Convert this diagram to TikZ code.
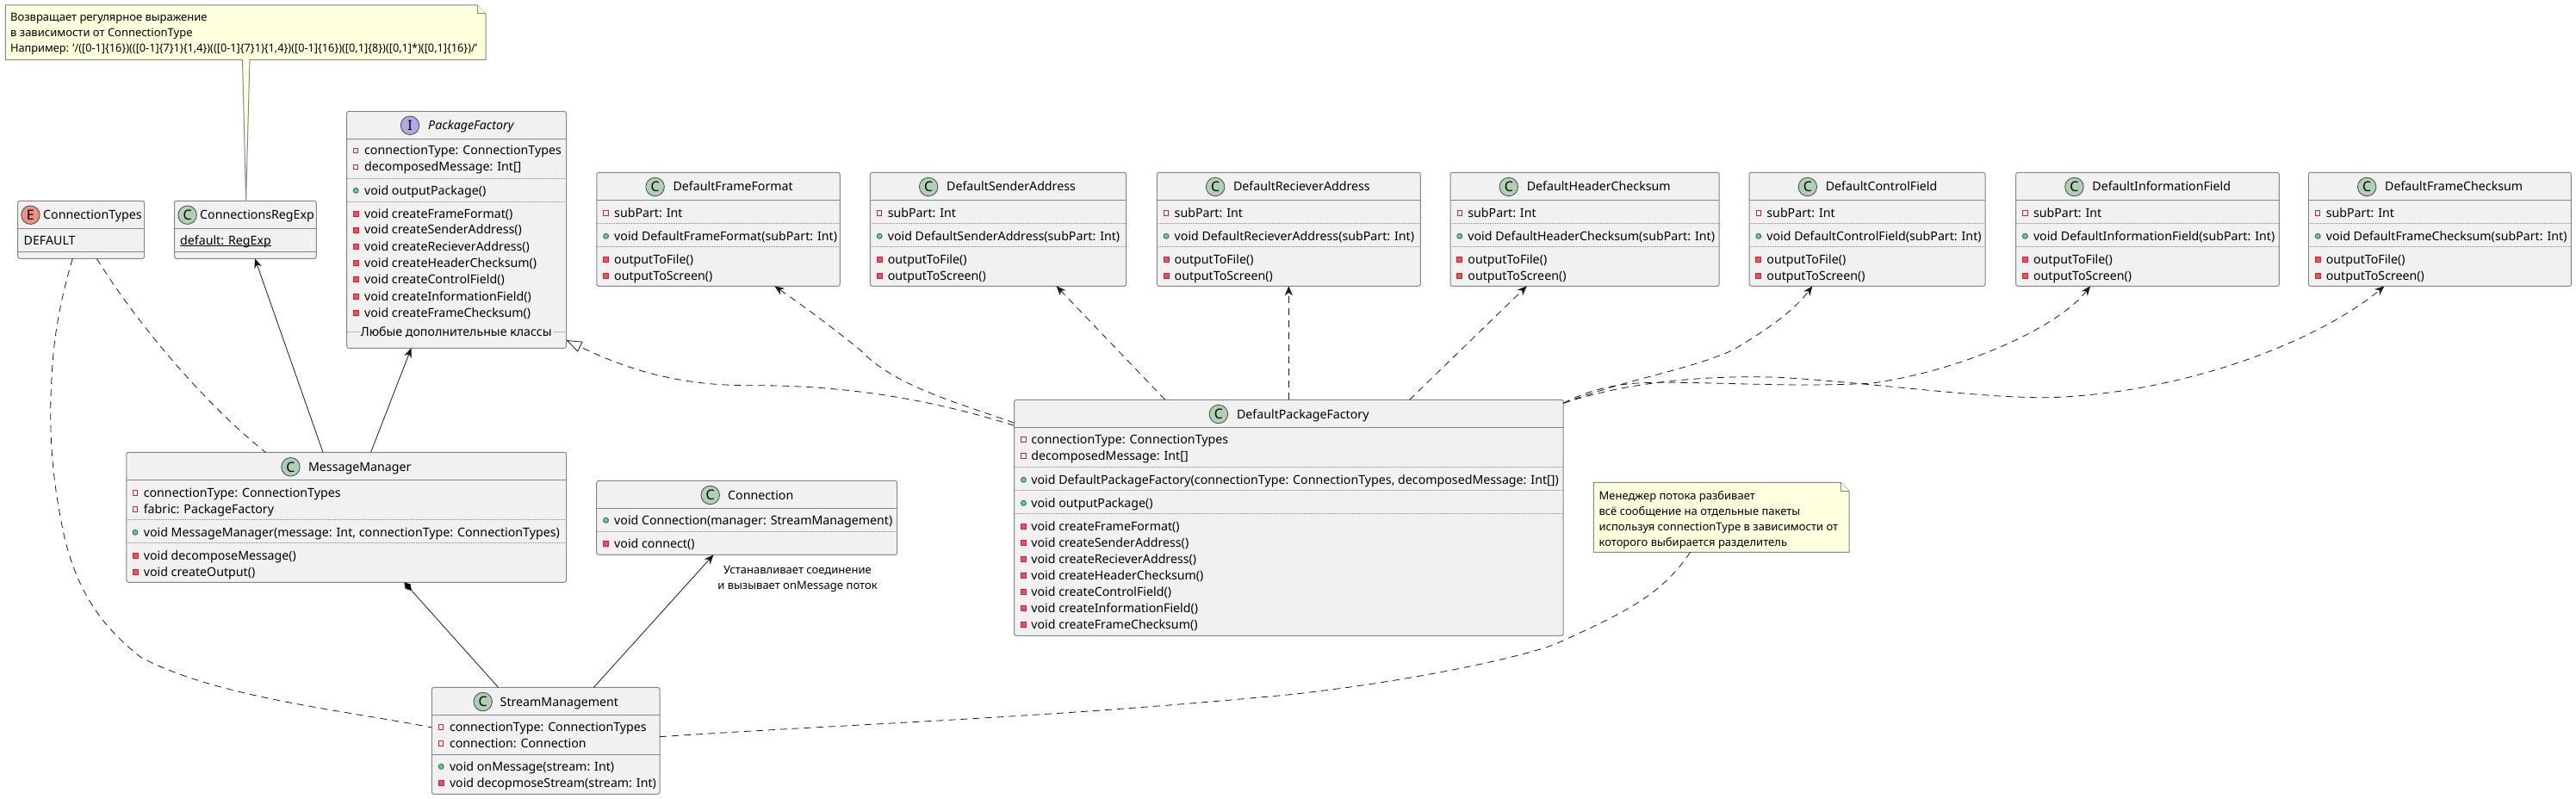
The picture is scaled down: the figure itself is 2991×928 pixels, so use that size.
\documentclass[tikz,border=0pt]{standalone}
\usepackage{fontspec}
\setmainfont{Noto Sans}
\usetikzlibrary{arrows.meta,calc}
\definecolor{boxfill}{HTML}{F1F1F1}
\definecolor{boxline}{HTML}{868686}
\definecolor{inkc}{HTML}{181818}
\definecolor{notefill}{HTML}{FEFFDD}
\definecolor{spotC}{HTML}{ADD1B2}
\definecolor{spotE}{HTML}{EB937F}
\definecolor{spotI}{HTML}{B4A7E5}
\definecolor{privred}{HTML}{C82930}
\definecolor{privfill}{HTML}{F24D5C}
\definecolor{pubgreen}{HTML}{038048}
\definecolor{pubfill}{HTML}{84BE84}
\newcount\nodeno
\newcommand\tnode[3]{\global\advance\nodeno by 1 \node[#1] (n\the\nodeno) at (#2) {#3};}
\tikzset{
  classbox/.style={draw=boxline,fill=boxfill,line width=1pt,rounded corners=2.5pt,anchor=north west,inner sep=0pt,outer sep=0pt},
  solidsep/.style={draw=boxline,line width=1pt},
  dotsep/.style={draw=boxline,line width=.8pt,dash pattern=on 1pt off 1pt},
  rowtext/.style={anchor=base west,inner sep=0pt,text=black,font=\fontsize{14.2}{16}\selectfont},
  notetext/.style={anchor=base west,inner sep=0pt,text=black,font=\fontsize{13}{15}\selectfont},
  spot/.style={circle,draw=inkc!80,line width=.8pt,fill=#1,minimum size=21.5pt,inner sep=0pt,font=\bfseries\fontsize{16}{16}\selectfont},
  fieldmark/.style={draw=privred,fill=none,line width=1pt,minimum size=5.5pt,inner sep=0pt},
  privmark/.style={draw=privred,fill=privfill,line width=.8pt,minimum size=6pt,inner sep=0pt},
  pubmark/.style={circle,draw=pubgreen,fill=pubfill,line width=.8pt,minimum size=6pt,inner sep=0pt},
  notebox/.style={draw=none,anchor=north west,inner sep=0pt,outer sep=0pt},
  noteline/.style={draw=boxline,fill=notefill,line width=1pt},
  rel/.style={draw=inkc,line width=.8pt},
  dep/.style={rel,dash pattern=on 8pt off 6pt},
  openhead/.style={-{Stealth[length=11pt,width=9pt,inset=3.5pt,fill=inkc]}},
  realhead/.style={-{Triangle[open,length=18pt,width=13pt,fill=white]}},
  comphead/.style={-{Diamond[length=13pt,width=8pt,fill=black]}}
}
% name, x0, y0, x1, y1, header line y
\newcommand\cbox[6]{\node[classbox,minimum width={(#4-#2)*1pt},minimum height={(#5-#3)*1pt}] (#1) at (#2,#3) {};
  \draw[solidsep] (#2,#6) -- (#4,#6);}
% colour, letter, spot x, y, title x, title
\newcommand\ctitle[6]{\tnode{spot=#1}{#3,#4}{#2}
  \tnode{rowtext}{#5,#4+5}{#6}}
\newcommand\dsep[3]{\draw[dotsep] (#1,#3) -- (#2,#3);}
\newcommand\fld[4]{\tnode{fieldmark}{#1,#3}{}\tnode{rowtext}{#2,#3+5}{#4}}
\newcommand\prv[4]{\tnode{privmark}{#1,#3}{}\tnode{rowtext}{#2,#3+5}{#4}}
\newcommand\pub[4]{\tnode{pubmark}{#1,#3}{}\tnode{rowtext}{#2,#3+5}{#4}}
% name, x0, x1, class name
\newcommand\subclass[4]{\cbox{#1}{#2}{200.3}{#3}{332.3}{232.3}
  \ctitle{spotC}{C}{#2+67.8}{217}{#2+88.6}{#4}
  \fld{#2+10.8}{#2+20.2}{247.3}{subPart: Int}
  \dsep{#2}{#3}{259.3}
  \pub{#2+10.8}{#2+20.2}{274.3}{void #4(subPart: Int)}
  \dsep{#2}{#3}{286.3}
  \prv{#2+10.8}{#2+20.2}{301.3}{outputToFile()}
  \prv{#2+10.8}{#2+20.2}{320.3}{outputToScreen()}}
\begin{document}
\begin{tikzpicture}[x=1pt,y=-1pt]
\useasboundingbox (0,0) rectangle (2991,928);
\fill[white] (0,0) rectangle (2991,928);

\cbox{types}{20.7}{233.3}{167.6}{300.3}{265.7}
\ctitle{spotE}{E}{35.4}{249.7}{50}{ConnectionTypes}
\tnode{rowtext}{27.5,284}{DEFAULT}
\draw[solidsep] (20.7,292.3) -- (167.6,292.3);

\cbox{regexp}{202.5}{233.3}{367.3}{300.3}{265.7}
\ctitle{spotC}{C}{217.6}{249.7}{232}{ConnectionsRegExp}
\tnode{rowtext}{209,284}{default: RegExp}
\draw[draw=black,line width=.9pt] (209,285.7) -- (314.6,285.7);
\draw[solidsep] (202.5,292.3) -- (367.3,292.3);

\cbox{factory}{402.7}{129.3}{657.5}{404.3}{161.3}
\ctitle{spotI}{I}{476}{145.7}{497}{\itshape PackageFactory}
\fld{413.2}{422.9}{175}{connectionType: ConnectionTypes}
\fld{413.2}{422.9}{194}{decomposedMessage: Int[]}
\dsep{402.7}{657.5}{207.3}
\pub{413.2}{422.9}{221.3}{void outputPackage()}
\dsep{402.7}{657.5}{234.3}
\prv{413.2}{422.9}{248.3}{void createFrameFormat()}
\prv{413.2}{422.9}{267}{void createSenderAddress()}
\prv{413.2}{422.9}{286}{void createRecieverAddress()}
\prv{413.2}{422.9}{305}{void createHeaderChecksum()}
\prv{413.2}{422.9}{324.7}{void createControlField()}
\prv{413.2}{422.9}{344}{void createInformationField()}
\prv{413.2}{422.9}{363}{void createFrameChecksum()}
\dsep{402.7}{417}{385.3}
\dsep{643}{657.5}{385.3}
\tnode{rowtext}{418.7,390.3}{Любые дополнительные классы}

\cbox{manager}{146.8}{525.3}{657.6}{676.3}{557.3}
\ctitle{spotC}{C}{337.5}{542.3}{357.9}{MessageManager}
\fld{157}{166.6}{572.3}{connectionType: ConnectionTypes}
\fld{157}{166.6}{591.3}{fabric: PackageFactory}
\dsep{146.8}{657.6}{603.3}
\pub{157}{166.6}{618.3}{void MessageManager(message: Int, connectionType: ConnectionTypes)}
\dsep{146.8}{657.6}{630.3}
\prv{157}{166.6}{645.3}{void decomposeMessage()}
\prv{157}{166.6}{664.3}{void createOutput()}

\cbox{connection}{692.7}{558.3}{1041.6}{644.3}{590.3}
\ctitle{spotC}{C}{824.7}{575}{845}{Connection}
\pub{703.5}{713}{604.3}{void Connection(manager: StreamManagement)}
\dsep{692.7}{1041.6}{617.3}
\prv{703.5}{713}{631.7}{void connect()}

\cbox{stream}{501.4}{798.3}{766}{922.3}{830.3}
\ctitle{spotC}{C}{560.7}{815}{580.5}{StreamManagement}
\fld{512.2}{521.8}{844.3}{connectionType: ConnectionTypes}
\fld{512.2}{521.8}{863.3}{connection: Connection}
\draw[solidsep] (501.4,876.3) -- (766,876.3);
\pub{512.2}{521.8}{890.3}{void onMessage(stream: Int)}
\prv{512.2}{521.8}{909.3}{void decopmoseStream(stream: Int)}

\subclass{frameformat}{692.8}{975.3}{DefaultFrameFormat}
\subclass{sender}{1010.4}{1307.6}{DefaultSenderAddress}
\subclass{reciever}{1343.3}{1649.4}{DefaultRecieverAddress}
\subclass{header}{1684}{1996.2}{DefaultHeaderChecksum}
\subclass{control}{2031}{2305}{DefaultControlField}
\subclass{information}{2340.6}{2646.4}{DefaultInformationField}
\subclass{checksum}{2680.4}{2985.4}{DefaultFrameChecksum}

\cbox{default}{1177.6}{464.3}{1815.2}{738.3}{496.3}
\ctitle{spotC}{C}{1414.9}{481}{1435.9}{DefaultPackageFactory}
\fld{1188.4}{1197.2}{510.3}{connectionType: ConnectionTypes}
\fld{1188.4}{1197.2}{529.3}{decomposedMessage: Int[]}
\dsep{1177.6}{1815.2}{542.3}
\pub{1188.4}{1197.2}{557.3}{void DefaultPackageFactory(connectionType: ConnectionTypes, decomposedMessage: Int[])}
\dsep{1177.6}{1815.2}{569.3}
\pub{1188.4}{1197.2}{584.3}{void outputPackage()}
\dsep{1177.6}{1815.2}{596.3}
\prv{1188.4}{1197.2}{611.3}{void createFrameFormat()}
\prv{1188.4}{1197.2}{630.3}{void createSenderAddress()}
\prv{1188.4}{1197.2}{649.3}{void createRecieverAddress()}
\prv{1188.4}{1197.2}{668.3}{void createHeaderChecksum()}
\prv{1188.4}{1197.2}{687.3}{void createControlField()}
\prv{1188.4}{1197.2}{706.3}{void createInformationField()}
\prv{1188.4}{1197.2}{725.3}{void createFrameChecksum()}

% notes
\node[notebox,minimum width=557.6pt,minimum height=63.3pt] (note1) at (6.4,6) {};
\draw[noteline] (note1.north west) -- ([xshift=-10pt]note1.north east) -- ([yshift=-10pt]note1.north east) -- (note1.south east)
  -- ([xshift=283.6pt]note1.south west) -- ([xshift=83.1pt]regexp.north west) -- ([xshift=275.1pt]note1.south west) -- (note1.south west) -- cycle;
\draw[noteline] ([xshift=-10pt]note1.north east) -- ([xshift=-10pt,yshift=-10pt]note1.north east) -- ([yshift=-10pt]note1.north east);
\tnode{notetext}{12,25}{Возвращает регулярное выражение}
\tnode{notetext}{12,43}{в зависимости от ConnectionType}
\tnode{notetext}{12,60.5}{\scalebox{0.978}[1]{Например: '/([0-1]\{16\})(([0-1]\{7\}1)\{1,4\})(([0-1]\{7\}1)\{1,4\})([0-1]\{16\})([0,1]\{8\})([0,1]*)([0,1]\{16\})/'}}

\node[notebox,minimum width=296.9pt,minimum height=81pt] (note2) at (1850.3,560.3) {};
\draw[noteline] (note2.north west) -- ([xshift=-10pt]note2.north east) -- ([yshift=-10pt]note2.north east) -- (note2.south east) -- (note2.south west) -- cycle;
\draw[noteline] ([xshift=-10pt]note2.north east) -- ([xshift=-10pt,yshift=-10pt]note2.north east) -- ([yshift=-10pt]note2.north east);
\tnode{notetext}{1856.4,580.5}{Менеджер потока разбивает}
\tnode{notetext}{1856.4,598}{всё сообщение на отдельные пакеты}
\tnode{notetext}{1856.4,616}{используя connectionType в зависимости от}
\tnode{notetext}{1856.4,634}{которого выбирается разделитель}

% label
\node[notetext,anchor=base] (label1) at (926,666) {Устанавливает соединение};
\node[notetext,anchor=base] (label2) at (926,684.5) {и вызывает onMessage поток};

% connectors
\draw[dep] ([xshift=63.6pt]types.south west) .. controls (71,345) and (63.3,385) .. (60.5,430) .. controls (56,500) and (60,555) .. (75,625) .. controls (90,685) and (115,725) .. (163,763) .. controls (250,810) and (400,825) .. ([yshift=-46.7pt]stream.north west);
\draw[dep] ([xshift=91.6pt]types.south west) .. controls (165,385) and (245,475) .. ([xshift=161.5pt]manager.north west);
\draw[rel,openhead] ([xshift=228.2pt]manager.north west) -- ([xshift=93.5pt]regexp.south west);
\draw[rel,openhead] ([xshift=283.8pt]manager.north west) -- ([xshift=74.8pt]factory.south west);
\draw[rel,comphead] ([xshift=77.1pt]stream.north west) -- ([xshift=322.5pt]manager.south west);
\draw[rel,openhead] ([xshift=188.1pt]stream.north west) -- ([xshift=135.8pt]connection.south west);
\draw[dep] ([yshift=-57.4pt]stream.north east) .. controls (1000,840) and (1200,835) .. (1498,806.7) .. controls (1650,790) and (1780,760) .. (1809,746.7) .. controls (1890,710) and (1930,690) .. ([xshift=112.3pt]note2.south west);

\draw[dep,realhead] ([yshift=-30pt]default.north west) .. controls (1100,470) and (1000,447) .. (871,447.7) .. controls (780,448) and (720,425) .. ([yshift=9.3pt]factory.south east);
\draw[dep,openhead] ([yshift=-27pt]default.north west) .. controls (1120,470) and (1040,450) .. (999,406.7) .. controls (960,375) and (925,350) .. ([xshift=206.6pt]frameformat.south west);
\draw[dep,openhead] ([xshift=175.2pt]default.north west) -- ([xshift=216.2pt]sender.south west);
\draw[dep,openhead] ([xshift=318.7pt]default.north west) -- ([xshift=153pt]reciever.south west);
\draw[dep,openhead] ([xshift=459pt]default.north west) -- ([xshift=88.7pt]header.south west);
\draw[dep,openhead] ([yshift=-4pt]default.north east) .. controls (1890,440) and (1960,430) .. (2011.7,406.7) .. controls (2040,390) and (2080,365) .. ([xshift=73.3pt]control.south west);
\draw[dep,openhead] ([yshift=-4pt]default.north east) .. controls (1860,445) and (1900,444) .. (1934.4,444.3) .. controls (2000,444) and (2090,450) .. (2173.8,445) .. controls (2280,430) and (2390,380) .. ([xshift=86.4pt]information.south west);
\draw[dep,openhead] ([yshift=-4pt]default.north east) .. controls (1900,440) and (2000,436) .. (2065.7,438.3) .. controls (2170,444) and (2300,463) .. (2382.3,461.7) .. controls (2550,455) and (2700,390) .. ([xshift=88pt]checksum.south west);
\end{tikzpicture}
\end{document}
